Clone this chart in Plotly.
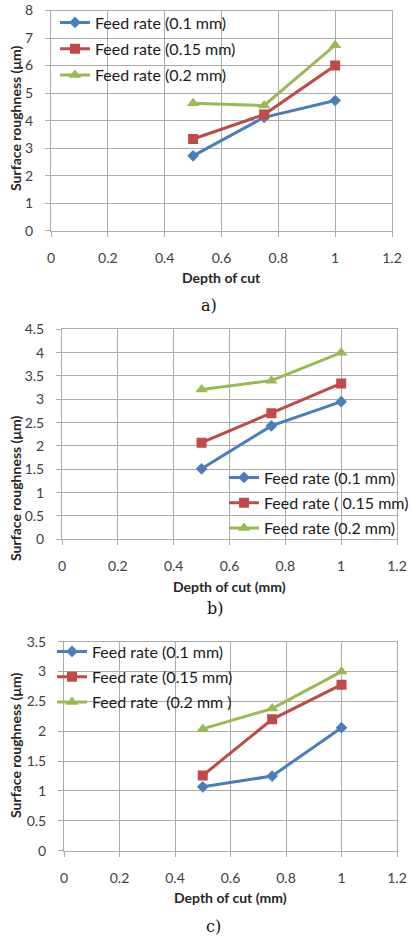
import plotly.graph_objects as go

W, H = 413, 936

depth = [0.5, 0.75, 1.0]
series_names_a = ["Feed rate (0.1 mm)", "Feed rate (0.15 mm)", "Feed rate (0.2 mm)"]
series_names_b = ["Feed rate (0.1 mm)", "Feed rate ( 0.15 mm)", "Feed rate (0.2 mm)"]
series_names_c = ["Feed rate (0.1 mm)", "Feed rate (0.15 mm)", "Feed rate  (0.2 mm )"]

a_f01 = [2.72, 4.12, 4.73]
a_f015 = [3.33, 4.22, 6.0]
a_f02 = [4.63, 4.55, 6.74]

b_f01 = [1.51, 2.43, 2.95]
b_f015 = [2.07, 2.70, 3.34]
b_f02 = [3.21, 3.40, 4.0]

c_f01 = [1.07, 1.25, 2.06]
c_f015 = [1.26, 2.20, 2.78]
c_f02 = [2.04, 2.38, 3.0]

x_ticks = [0, 0.2, 0.4, 0.6, 0.8, 1, 1.2]
x_ticklabels = ["0", "0.2", "0.4", "0.6", "0.8", "1", "1.2"]

colors = ["#4A7EBB", "#BE4B48", "#98B954"]
symbols = ["diamond", "square", "triangle-up"]
msizes = [9, 10, 11]

FONT = "Lato"
GRID = "#ababab"


def px(x):
    return x / W


def py(y):
    return 1 - y / H


fig = go.Figure()

panels = [
    dict(data=[a_f01, a_f015, a_f02], names=series_names_a, xa="x", ya="y", legend="legend",
         xdom=(51, 392), ydom=(10.5, 230.7), yrange=[0, 8], dtick=1),
    dict(data=[b_f01, b_f015, b_f02], names=series_names_b, xa="x2", ya="y2", legend="legend2",
         xdom=(62, 397), ydom=(329.3, 539.3), yrange=[0, 4.5], dtick=0.5),
    dict(data=[c_f01, c_f015, c_f02], names=series_names_c, xa="x3", ya="y3", legend="legend3",
         xdom=(64, 397), ydom=(641.7, 850.7), yrange=[0, 3.5], dtick=0.5),
]

for p in panels:
    for i, (vals, name) in enumerate(zip(p["data"], p["names"])):
        fig.add_trace(go.Scatter(
            x=depth, y=vals, name=name, mode="lines+markers",
            xaxis=p["xa"], yaxis=p["ya"], legend=p["legend"],
            legendgroup=p["legend"] + str(i),
            line=dict(color=colors[i], width=3),
            marker=dict(symbol=symbols[i], size=msizes[i], color=colors[i]),
        ))

axis_common = dict(
    showgrid=True, gridcolor=GRID, gridwidth=1,
    showline=True, linecolor=GRID, linewidth=1, mirror=True,
    ticks="outside", ticklen=5, tickcolor=GRID,
    zeroline=False, fixedrange=True,
    ticklabeloverflow="allow",
    tickfont=dict(family=FONT, size=14, color="#404040"),
)

layout = dict(
    width=W, height=H,
    margin=dict(l=0, r=0, t=0, b=0, autoexpand=False),
    paper_bgcolor="white", plot_bgcolor="white",
    showlegend=True,
)

for k, p in enumerate(panels):
    sfx = "" if k == 0 else str(k + 1)
    layout["xaxis" + sfx] = dict(
        axis_common,
        domain=[px(p["xdom"][0]), px(p["xdom"][1])],
        range=[0, 1.2], tickvals=x_ticks, ticktext=x_ticklabels,
        anchor="y" + sfx, ticklabelstandoff=9,
    )
    layout["yaxis" + sfx] = dict(
        axis_common,
        domain=[py(p["ydom"][1]), py(p["ydom"][0])],
        range=p["yrange"], dtick=p["dtick"], tick0=0,
        anchor="x" + sfx, ticklabelstandoff=9,
    )

leg_common = dict(
    bgcolor="rgba(0,0,0,0)", borderwidth=0,
    font=dict(family=FONT, size=16, color="#1a1a1a"),
    xanchor="left", yanchor="top",
    itemwidth=30,
)
layout["legend"] = dict(leg_common, x=px(55), y=py(5.5), tracegroupgap=2.5)
layout["legend2"] = dict(leg_common, x=px(224), y=py(460.5), tracegroupgap=1.5)
layout["legend3"] = dict(leg_common, x=px(52), y=py(634.5), tracegroupgap=1.5)

fig.update_layout(**layout)

ann = []
# y-axis titles
for yc in [119, 489, 746]:
    ann.append(dict(text="<b>Surface roughness (μm)</b>", x=px(15), y=py(yc), xref="paper", yref="paper",
                    showarrow=False, textangle=-90, xanchor="center", yanchor="middle",
                    font=dict(family=FONT, size=14, color="#262626")))
# x-axis titles
for txt, xc, yc in [("<b>Depth of cut</b>", 221.5, 277.7), ("<b>Depth of cut (mm)</b>", 229.5, 586.7),
                    ("<b>Depth of cut (mm)</b>", 230.5, 897.7)]:
    ann.append(dict(text=txt, x=px(xc), y=py(yc), xref="paper", yref="paper", showarrow=False,
                    xanchor="center", yanchor="middle", font=dict(family=FONT, size=14, color="#262626")))
# captions
for txt, xc, yc in [("a)", 209, 306), ("b)", 215, 608), ("c)", 213, 926)]:
    ann.append(dict(text=txt, x=px(xc), y=py(yc), xref="paper", yref="paper", showarrow=False,
                    xanchor="center", yanchor="middle", font=dict(family="DejaVu Serif", size=16, color="#111111")))

fig.update_layout(annotations=ann)

fig.write_html("out.html")
